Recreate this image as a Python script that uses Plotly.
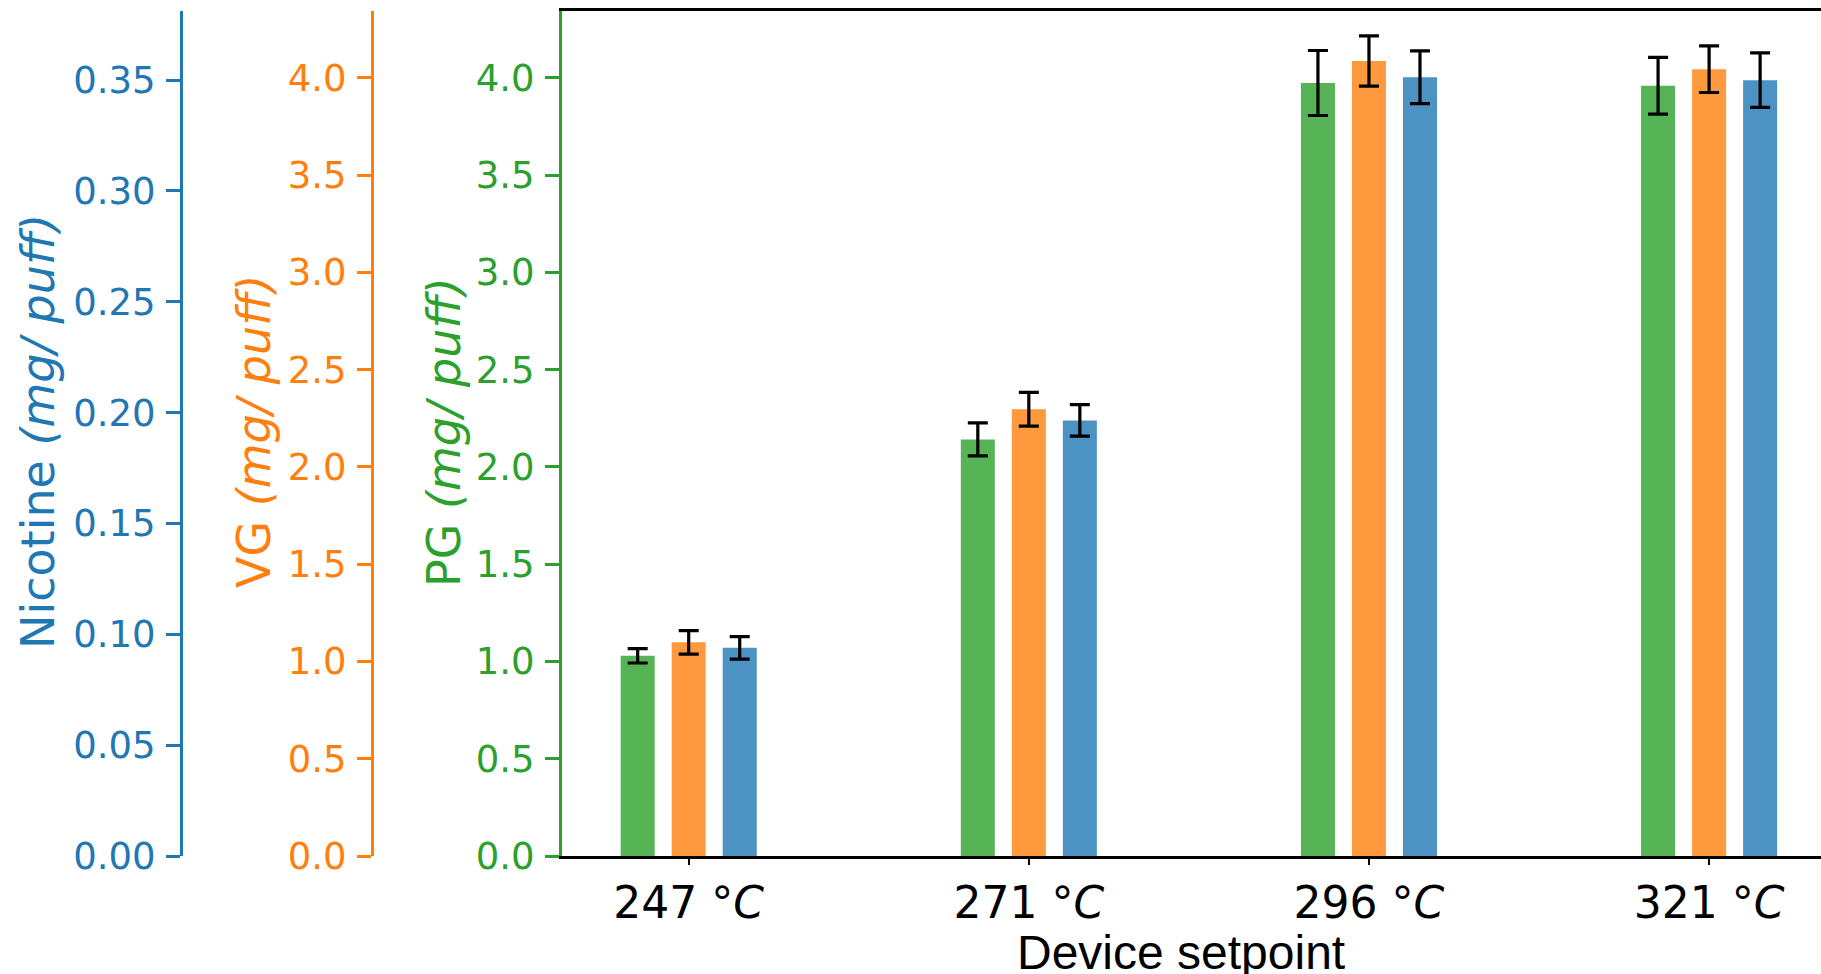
import plotly.graph_objects as go

categories = ["247 °C", "271 °C", "296 °C", "321 °C"]
tick_labels = ["247 °<i>C</i>", "271 °<i>C</i>", "296 °<i>C</i>", "321 °<i>C</i>"]

pg_values = [1.029, 2.141, 3.973, 3.959]
pg_errors = [0.037, 0.085, 0.167, 0.146]
vg_values = [1.098, 2.296, 4.086, 4.044]
vg_errors = [0.060, 0.087, 0.129, 0.120]
nic_values = [0.0939, 0.1965, 0.3513, 0.3500]
nic_errors = [0.0051, 0.0071, 0.0119, 0.0123]

GREEN = "#2ca02c"
ORANGE = "#ff7f0e"
BLUE = "#1f77b4"
FONT = "DejaVu Sans"

W, H = 1821, 974
ML, MR, MT, MB = 0, 0, 11, 118
x_left = 562
x_vg = 372
x_nic = 181

def px_to_paper(px):
    return (px - ML) / (W - ML - MR)

err_style = dict(type="data", color="black", thickness=3.2, width=10, visible=True)

fig = go.Figure()
fig.add_trace(go.Bar(x=categories, y=pg_values, yaxis="y", name="PG",
                     marker=dict(color=GREEN, opacity=0.8, line=dict(width=0)),
                     width=0.1, offset=-0.2,
                     error_y=dict(array=pg_errors, **err_style)))
fig.add_trace(go.Bar(x=categories, y=vg_values, yaxis="y2", name="VG",
                     marker=dict(color=ORANGE, opacity=0.8, line=dict(width=0)),
                     width=0.1, offset=-0.05,
                     error_y=dict(array=vg_errors, **err_style)))
fig.add_trace(go.Bar(x=categories, y=nic_values, yaxis="y3", name="Nicotine",
                     marker=dict(color=BLUE, opacity=0.8, line=dict(width=0)),
                     width=0.1, offset=0.1,
                     error_y=dict(array=nic_errors, **err_style)))

ytick_font = dict(family=FONT, size=37)
common_y = dict(showline=True, linewidth=3, ticks="outside", ticklen=14, tickwidth=3,
                showgrid=False, zeroline=False, ticklabelstandoff=3)

fig.update_layout(
    template="none",
    width=W, height=H,
    margin=dict(l=ML, r=MR, t=MT, b=MB),
    paper_bgcolor="white", plot_bgcolor="white",
    showlegend=False,
    barmode="overlay",
    xaxis=dict(domain=[px_to_paper(x_left), 1], type="category",
               categoryorder="array", categoryarray=categories,
               range=[-0.3725, 3.329],
               tickmode="array", tickvals=categories, ticktext=tick_labels,
               tickfont=dict(family=FONT, size=44, color="black"),
               ticks="outside", ticklen=6, tickwidth=1.5, tickcolor="black",
               showline=True, linecolor="black", linewidth=3, mirror=True,
               showgrid=False, zeroline=False),
    yaxis=dict(range=[0, 4.343], tickvals=[0, 0.5, 1, 1.5, 2, 2.5, 3, 3.5, 4],
               tickformat=".1f", color=GREEN, linecolor=GREEN, tickcolor=GREEN,
               tickfont=dict(ytick_font, color=GREEN), **common_y),
    yaxis2=dict(range=[0, 4.343], tickvals=[0, 0.5, 1, 1.5, 2, 2.5, 3, 3.5, 4],
                tickformat=".1f", overlaying="y", anchor="free",
                position=px_to_paper(x_vg), side="left",
                color=ORANGE, linecolor=ORANGE, tickcolor=ORANGE,
                tickfont=dict(ytick_font, color=ORANGE), **common_y),
    yaxis3=dict(range=[0, 0.3812], tickvals=[0, 0.05, 0.1, 0.15, 0.2, 0.25, 0.3, 0.35],
                tickformat=".2f", overlaying="y", anchor="free",
                position=px_to_paper(x_nic), side="left",
                color=BLUE, linecolor=BLUE, tickcolor=BLUE,
                tickfont=dict(ytick_font, color=BLUE), **common_y),
)

plot_h = H - MT - MB
def py_to_paper(py):
    return (H - MB - py) / plot_h

titles = [("Nicotine <i>(mg/ puff)</i>", 38, BLUE),
          ("VG <i>(mg/ puff)</i>", 254, ORANGE),
          ("PG <i>(mg/ puff)</i>", 444, GREEN)]
for text, cx, col in titles:
    fig.add_annotation(text=text, xref="paper", yref="paper",
                       x=px_to_paper(cx), y=py_to_paper(432),
                       xanchor="center", yanchor="middle", textangle=-90,
                       showarrow=False, font=dict(family=FONT, size=46, color=col))

fig.add_annotation(text="Device setpoint", xref="paper", yref="paper",
                   x=px_to_paper(1181), y=py_to_paper(981),
                   xanchor="center", yanchor="bottom", showarrow=False,
                   font=dict(family="Liberation Sans", size=48, color="black"))

fig.write_html("out.html")
